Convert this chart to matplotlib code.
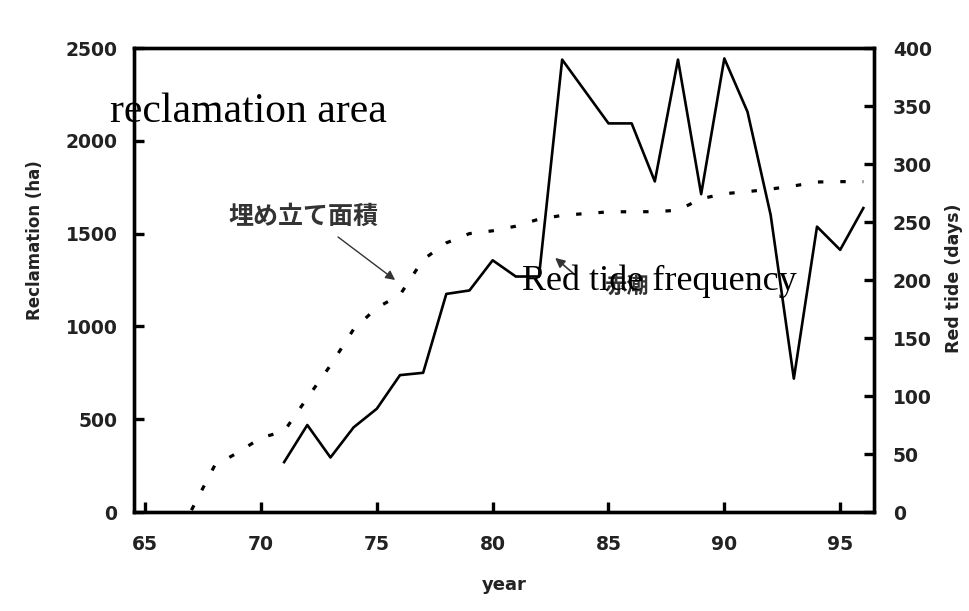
import matplotlib
matplotlib.use("Agg")
import matplotlib.pyplot as plt

plt.rcParams['font.family'] = ['DejaVu Sans', 'Noto Sans CJK JP']

# reclamation area (ha), left axis, dotted
rec_years = [67, 68, 69, 70, 71, 72, 73, 74, 75, 76, 77, 78, 79, 80, 81,
             82, 83, 84, 85, 86, 87, 88, 89, 90, 91, 92, 93, 94, 95, 96]
rec_area = [10, 250, 320, 400, 435, 615, 790, 985, 1100, 1170, 1360, 1450,
            1500, 1515, 1540, 1578, 1598, 1608, 1617, 1618, 1618, 1626,
            1688, 1715, 1726, 1740, 1757, 1778, 1780, 1780]

# red tide frequency (days), right axis, solid
tide_years = [71, 72, 73, 74, 75, 76, 77, 78, 79, 80, 81, 82, 83,
              85, 86, 87, 88, 89, 90, 91, 92, 93, 94, 95, 96]
tide_days = [43, 75, 47, 73, 89, 118, 120, 188, 191, 217, 203, 203, 390,
             335, 335, 285, 390, 274, 391, 345, 256, 115, 246, 226, 262]

x_ticks = [65, 70, 75, 80, 85, 90, 95]
left_ticks = [0, 500, 1000, 1500, 2000, 2500]
right_ticks = [0, 50, 100, 150, 200, 250, 300, 350, 400]

lab_col = '#222222'
spw = 2.4

fig = plt.figure(figsize=(9.7, 6.11), dpi=100)
ax = fig.add_axes([134/970, 99/611, 740/970, 464/611])
ax2 = ax.twinx()

ax.plot(rec_years, rec_area, color='black', lw=2.3, dashes=(1.7, 5.3),
        dash_capstyle='butt', zorder=3)
ax2.plot(tide_years, tide_days, color='black', lw=1.9, zorder=3)

ax.set_xlim(64.52, 96.46)
ax.set_ylim(0, 2500)
ax2.set_ylim(0, 400)
ax.set_xticks(x_ticks)
ax.set_yticks(left_ticks)
ax2.set_yticks(right_ticks)

for a in (ax, ax2):
    for s in a.spines.values():
        s.set_linewidth(spw)
ax.tick_params(axis='both', direction='in', length=7, width=spw,
               labelsize=13.5, labelcolor=lab_col)
ax.tick_params(axis='y', pad=12)
ax.tick_params(axis='x', pad=16.5)
ax2.tick_params(axis='y', direction='in', length=7, width=spw,
                labelsize=13.5, labelcolor=lab_col, pad=13.5)
for a in (ax, ax2):
    for t in a.get_xticklabels() + a.get_yticklabels():
        t.set_fontweight('bold')

ax.set_xlabel('year', fontsize=13, fontweight='bold', color=lab_col, labelpad=16)
ax.set_ylabel('Reclamation (ha)', fontsize=12, fontweight='bold', color=lab_col,
              va='center')
ax.yaxis.set_label_coords(-0.134, 0.586)
ax2.set_ylabel('Red tide (days)', fontsize=12.5, fontweight='bold', color=lab_col,
               rotation=90, va='center')
ax2.yaxis.set_label_coords(1.108, 0.504)

# Japanese labels with arrows
ax.text(0.2284, 0.6358, '埋め立て面積', transform=ax.transAxes, fontsize=18,
        fontweight='bold', color='#333333', ha='center', va='center',
        family=['Noto Sans CJK JP', 'DejaVu Sans'])
ax.annotate('', xy=(75.79, 1250), xycoords='data',
            xytext=(0.2757, 0.5927), textcoords='axes fraction',
            arrowprops=dict(arrowstyle='-|>', lw=1.0, color='#333333',
                            mutation_scale=14, shrinkA=0, shrinkB=0))
ax.text(0.6662, 0.4849, '赤潮', transform=ax.transAxes, fontsize=16,
        fontweight='bold', color='#333333', ha='center', va='center',
        family=['Noto Sans CJK JP', 'DejaVu Sans'], zorder=4)
ax.annotate('', xy=(82.7, 1369), xycoords='data',
            xytext=(0.596, 0.511), textcoords='axes fraction',
            arrowprops=dict(arrowstyle='-|>', lw=1.2, color='#333333',
                            mutation_scale=14, shrinkA=0, shrinkB=0))

# English overlay labels
ax2.text(-0.0324, 0.8405, 'reclamation area', transform=ax.transAxes,
         fontsize=30, family='Liberation Serif', va='baseline', ha='left',
         clip_on=False, zorder=10)
ax2.text(0.5243, 0.4784, 'Red tide frequency', transform=ax.transAxes,
         fontsize=26, family='Liberation Serif', va='baseline', ha='left',
         zorder=10)

fig.savefig('out.png', dpi=100)
